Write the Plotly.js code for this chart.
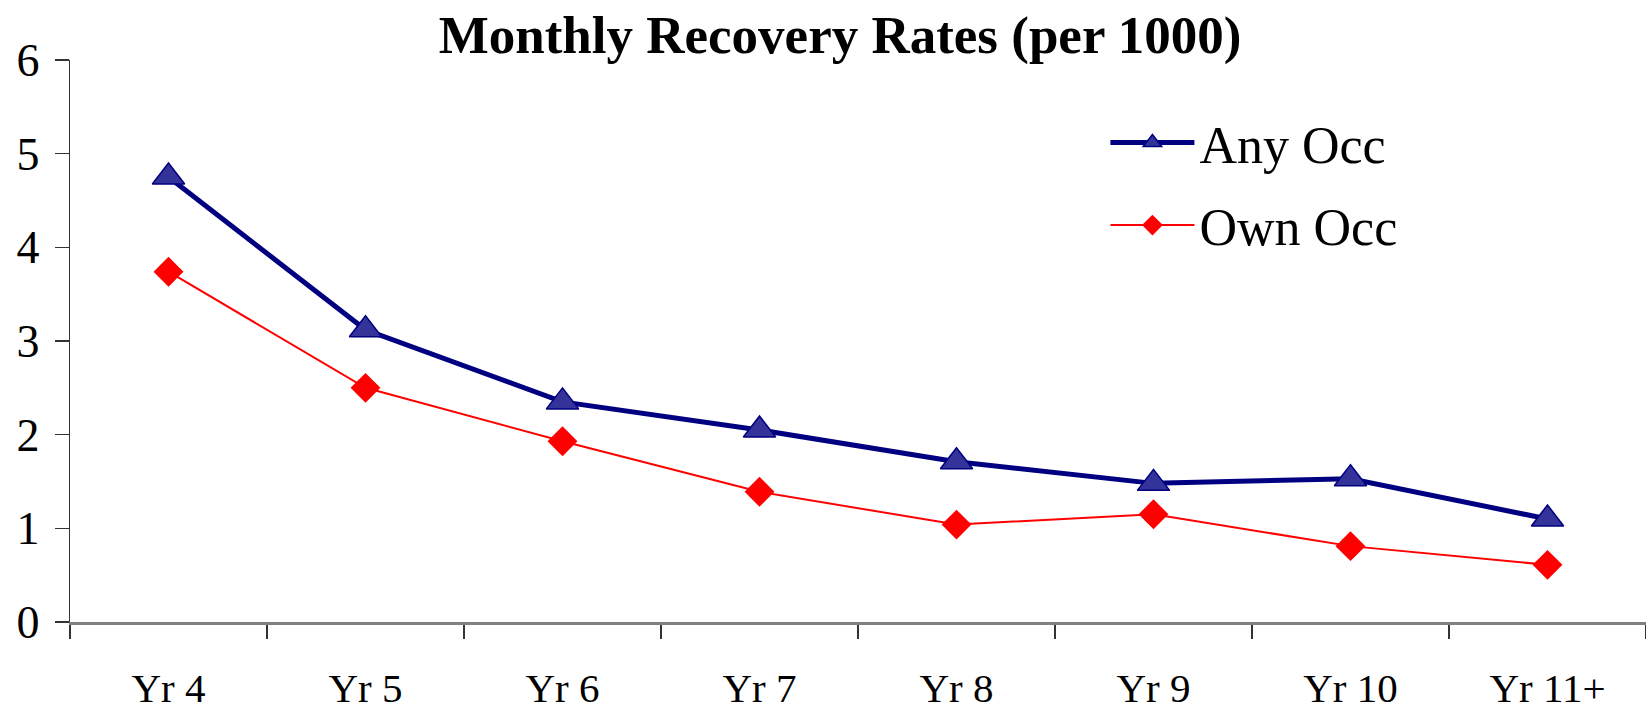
<!DOCTYPE html>
<html>
<head>
<meta charset="utf-8">
<script src="https://cdn.plot.ly/plotly-3.0.1.min.js"></script>
<style>html,body{margin:0;padding:0;background:#fff}#chart{width:1646px;height:710px}</style>
</head>
<body>
<div id="chart"></div>
<script>
const categories = ["Yr 4", "Yr 5", "Yr 6", "Yr 7", "Yr 8", "Yr 9", "Yr 10", "Yr 11+"];
const anyOcc = [4.75, 3.12, 2.35, 2.05, 1.71, 1.48, 1.53, 1.10];
const ownOcc = [3.74, 2.50, 1.93, 1.39, 1.04, 1.15, 0.81, 0.61];
const yTicks = [0, 1, 2, 3, 4, 5, 6];

const serif = "'Liberation Serif', 'DejaVu Serif', serif";

const traces = [
  {
    x: categories, y: anyOcc, name: "Any Occ", type: "scatter", mode: "lines+markers",
    legendgroup: "a",
    line: {color: "#000080", width: 5},
    marker: {symbol: "triangle-up", size: 28, color: "#333399", line: {color: "#000080", width: 1.5}}
  },
  {
    x: categories, y: ownOcc, name: "Own Occ", type: "scatter", mode: "lines+markers",
    legendgroup: "b",
    line: {color: "#FF0000", width: 2},
    marker: {symbol: "diamond", size: 23, color: "#FF0000", line: {color: "#FF0000", width: 0}}
  }
];

const layout = {
  width: 1646, height: 710,
  margin: {l: 70, r: 0, t: 60, b: 88},
  paper_bgcolor: "#ffffff", plot_bgcolor: "#ffffff",
  font: {family: serif, color: "#000000", size: 44},
  title: {
    text: "<b>Monthly Recovery Rates (per 1000)</b>",
    font: {family: serif, size: 53, color: "#000000"},
    x: 0.4886, xref: "paper", xanchor: "center",
    y: 0.952, yref: "container", yanchor: "middle"
  },
  showlegend: true,
  legend: {
    x: 0.657, xanchor: "left", y: 0.925, yanchor: "top",
    font: {family: serif, size: 52, color: "#000000"},
    bgcolor: "rgba(0,0,0,0)", borderwidth: 0,
    traceorder: "grouped", tracegroupgap: 12, itemwidth: 84
  },
  xaxis: {
    type: "category", range: [-0.5, 7.5], tickmode: "array",
    tickvals: categories, ticktext: categories,
    tickson: "boundaries", ticks: "outside", ticklen: 14, tickwidth: 1.2, tickcolor: "#333333",
    showline: true, linecolor: "#808080", linewidth: 2.5,
    showgrid: false, zeroline: false,
    tickfont: {family: serif, size: 41, color: "#000000"},
    ticklabelstandoff: 28, fixedrange: true
  },
  yaxis: {
    range: [0, 6], tickmode: "array", tickvals: yTicks,
    ticks: "outside", ticklen: 14, tickwidth: 1.2, tickcolor: "#333333",
    showline: true, linecolor: "#333333", linewidth: 1.2,
    showgrid: false, zeroline: false,
    tickfont: {family: serif, size: 46, color: "#000000"},
    ticklabelstandoff: 6, fixedrange: true
  }
};

Plotly.newPlot("chart", traces, layout, {displayModeBar: false, staticPlot: true});
</script>
</body>
</html>
